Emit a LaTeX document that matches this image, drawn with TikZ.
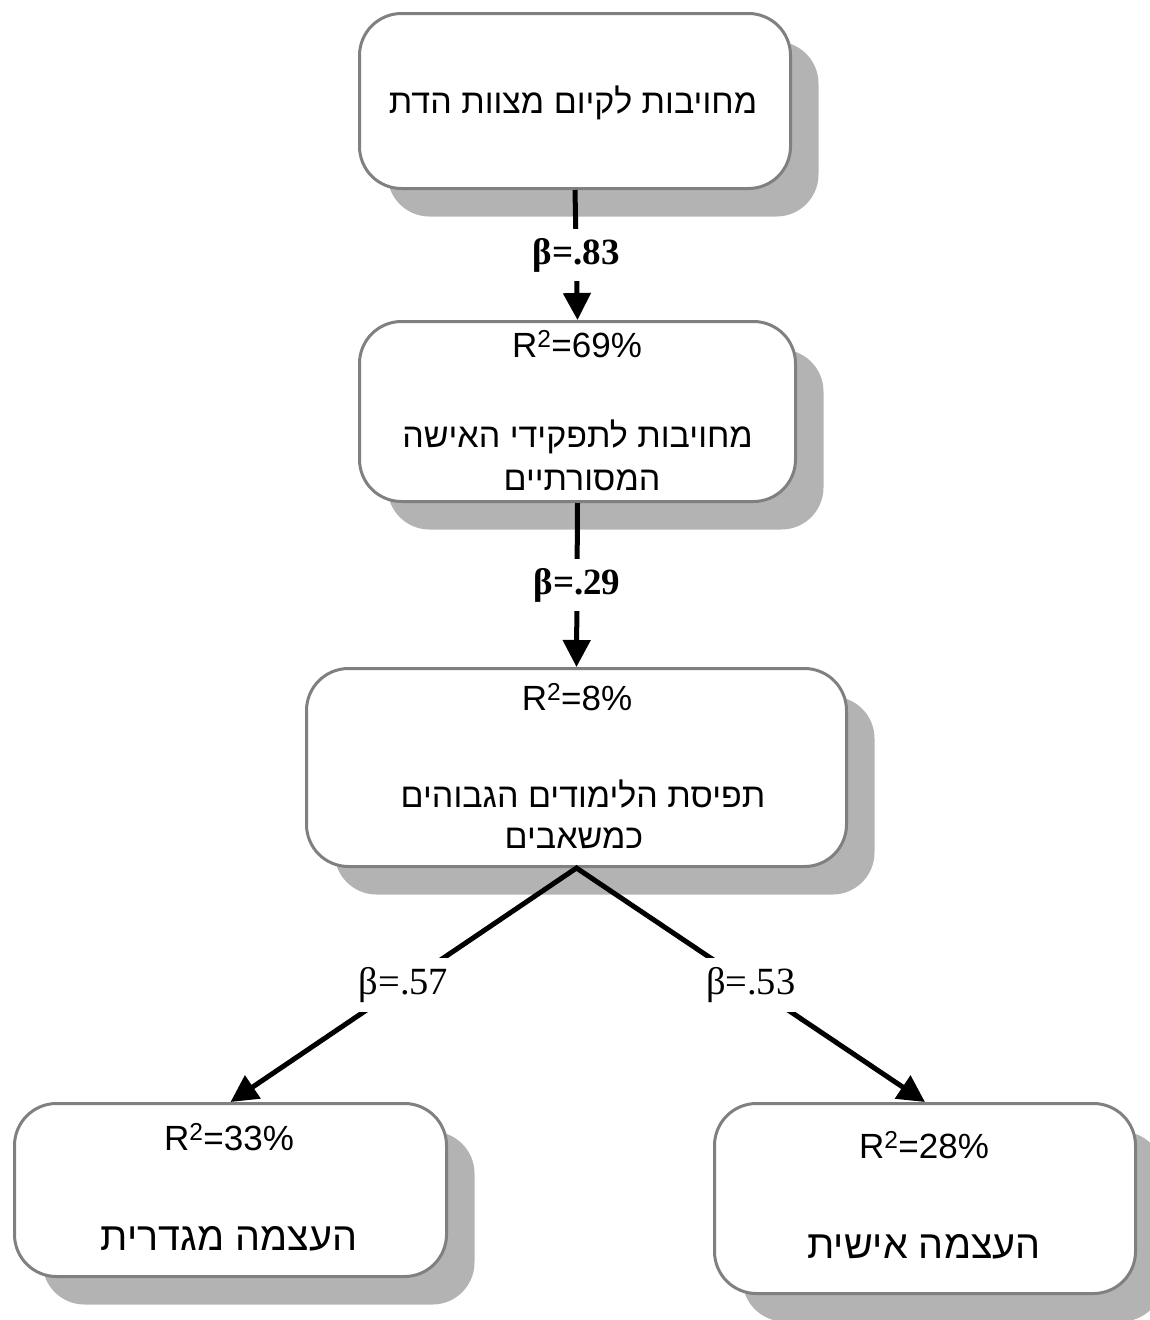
\documentclass[tikz,border=0pt]{standalone}
\usepackage{fontspec}
\setmainfont{Liberation Sans}
\newfontfamily\hebfont[Script=Hebrew]{Liberation Sans}
\newfontfamily\seriffont{Liberation Serif}
\TeXXeTstate=1
\usetikzlibrary{arrows.meta,shadows}
\definecolor{boxline}{HTML}{808080}
\definecolor{shade}{HTML}{B3B3B3}

\begin{document}
\begin{tikzpicture}[x=1pt,y=-1pt,
  box/.style={draw=boxline, line width=3pt, fill=white, rounded corners=42pt,
    inner sep=0pt,
    drop shadow={shadow xshift=28pt, shadow yshift=-28pt, fill=shade, opacity=1}},
  rsq/.style={font=\fontsize{35}{40}\selectfont, anchor=base, inner sep=0pt},
  heb/.style={font=\hebfont\fontsize{34}{40}\selectfont, anchor=base, inner sep=0pt},
  hebbig/.style={heb, font=\hebfont\fontsize{39.5}{45}\selectfont},
  conn/.style={line width=5pt, -{Triangle[width=27pt,length=27pt]}},
  beta/.style={fill=white, inner xsep=3pt, inner ysep=9pt,
    font=\seriffont\fontsize{38.5}{44}\selectfont},
  betabold/.style={beta, font=\seriffont\bfseries\fontsize{37}{42}\selectfont},
]
\useasboundingbox (0,0) rectangle (1150,1320);

% boxes
\node[box, minimum width=431pt, minimum height=175pt] (b1) at (575,101) {};
\node[box, minimum width=436pt, minimum height=180pt] (b2) at (577.5,411.5) {};
\node[box, minimum width=540pt, minimum height=198pt] (b3) at (576.5,767.5) {};
\node[box, minimum width=432pt, minimum height=173pt] (b4) at (230.5,1190) {};
\node[box, minimum width=421pt, minimum height=190pt] (b5) at (925,1198.5) {};

% box texts
\node[heb] (t1) at (573,113) {\beginR מחויבות לקיום מצוות הדת\endR};

\node[rsq] (r2) at (577,357) {R\textsuperscript{2}=69\%};
\node[heb] (t2a) at (577.5,447) {\beginR מחויבות לתפקידי האישה\endR};
\node[heb] (t2b) at (582,490) {\beginR המסורתיים\endR};

\node[rsq] (r3) at (577,710) {R\textsuperscript{2}=8\%};
\node[heb] (t3a) at (583,807) {\beginR תפיסת הלימודים הגבוהים\endR};
\node[heb] (t3b) at (574,848) {\beginR כמשאבים\endR};

\node[rsq] (r4) at (229,1150) {R\textsuperscript{2}=33\%};
\node[hebbig] (t4) at (229,1250) {\beginR העצמה מגדרית\endR};

\node[rsq] (r5) at (924,1158) {R\textsuperscript{2}=28\%};
\node[hebbig] (t5) at (924,1258) {\beginR העצמה אישית\endR};

% paths
\draw[conn] (b1.south) -- node[betabold] (l1) {β=.83} (b2.north);
\draw[conn] (b2.south) -- node[betabold] (l2) {β=.29} (b3.north);
\draw[line width=5pt, {Triangle[width=27pt,length=27pt]}-{Triangle[width=27pt,length=27pt]}]
  (b4.north) -- node[beta] (l3) {β=.57} (b3.south)
  -- node[beta] (l4) {β=.53} (b5.north);
\end{tikzpicture}
\end{document}
